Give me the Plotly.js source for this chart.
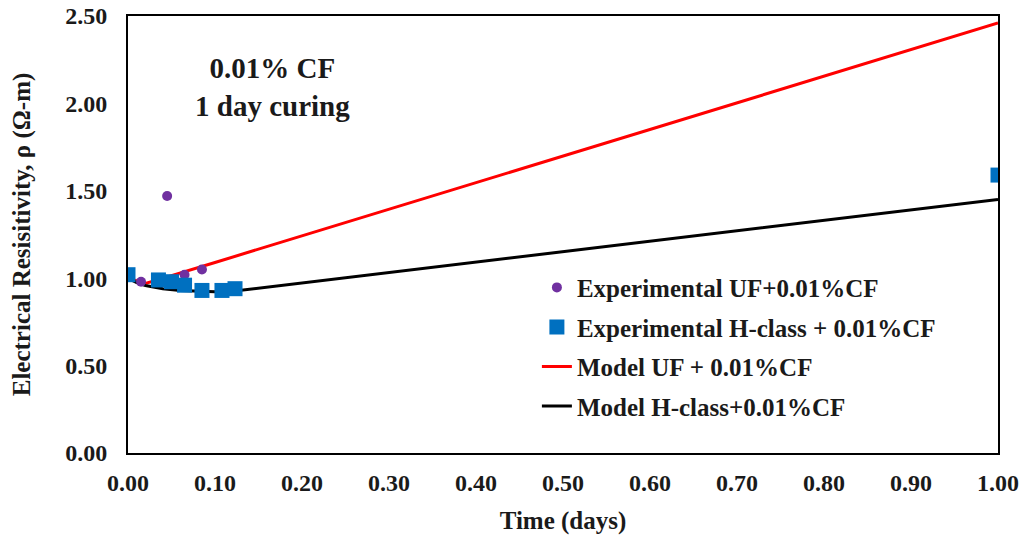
<!DOCTYPE html>
<html>
<head>
<meta charset="utf-8">
<script src="https://cdn.plot.ly/plotly-3.0.1.min.js"></script>
<style>html,body{margin:0;padding:0;background:#fff;}#chart{width:1026px;height:536px;}</style>
</head>
<body>
<div id="chart"></div>
<script>
// Experimental UF + 0.01% CF
var expUFTime = [0.015, 0.045, 0.065, 0.085];
var expUFRes  = [0.98, 1.47, 1.02, 1.05];

// Experimental H-class + 0.01% CF
var expHTime = [0.0, 0.035, 0.05, 0.065, 0.085, 0.108, 0.123, 1.0];
var expHRes  = [1.02, 0.99, 0.98, 0.96, 0.93, 0.93, 0.94, 1.59];

// Model UF + 0.01% CF
var modelUFTime = [0.0, 0.01, 0.02, 0.03, 0.05, 0.1, 1.0];
var modelUFRes  = [1.0, 0.985, 0.97, 0.985, 1.015, 1.09, 2.46];

// Model H-class + 0.01% CF
var modelHTime = [0.0, 0.01, 0.02, 0.04, 0.06, 0.08, 0.1, 0.12, 1.0];
var modelHRes  = [1.0, 0.975, 0.958, 0.94, 0.93, 0.924, 0.922, 0.925, 1.45];

var xTicks = [0, 0.1, 0.2, 0.3, 0.4, 0.5, 0.6, 0.7, 0.8, 0.9, 1.0];
var xTickLabels = ["0.00","0.10","0.20","0.30","0.40","0.50","0.60","0.70","0.80","0.90","1.00"];
var yTicks = [0, 0.5, 1.0, 1.5, 2.0, 2.5];
var yTickLabels = ["0.00","0.50","1.00","1.50","2.00","2.50"];

var serif = "Liberation Serif, Times New Roman, serif";
var ink = '#1a1a1a';

var traces = [
  {x: modelUFTime, y: modelUFRes, mode: 'lines', name: '<b>Model UF + 0.01%CF</b>',
   line: {color: '#FF0000', width: 3}, legendgroup: 'c', legendrank: 3},
  {x: modelHTime, y: modelHRes, mode: 'lines', name: '<b>Model H-class+0.01%CF</b>',
   line: {color: '#000000', width: 3}, legendgroup: 'd', legendrank: 4},
  {x: expUFTime, y: expUFRes, mode: 'markers', name: '<b>Experimental UF+0.01%CF</b>',
   marker: {color: '#7030A0', size: 10, symbol: 'circle'}, legendgroup: 'a', legendrank: 1},
  {x: expHTime, y: expHRes, mode: 'markers', name: '<b>Experimental H-class + 0.01%CF</b>',
   marker: {color: '#0070C0', size: 15, symbol: 'square'}, legendgroup: 'b', legendrank: 2}
];

var layout = {
  width: 1026, height: 536,
  margin: {l: 128, r: 28, t: 16, b: 83},
  paper_bgcolor: '#fff', plot_bgcolor: '#fff',
  font: {family: serif, color: ink, size: 24},
  showlegend: true,
  legend: {x: 0.47, y: 0.431, xanchor: 'left', yanchor: 'top', bgcolor: 'rgba(0,0,0,0)',
           font: {family: serif, size: 25, color: ink}, traceorder: 'grouped', tracegroupgap: 4},
  xaxis: {range: [0, 1.0], tickvals: xTicks, ticktext: xTickLabels, showgrid: false, zeroline: false,
          showline: true, linecolor: '#000', linewidth: 2, mirror: true, ticks: '', ticklabelstandoff: 7,
          tickfont: {family: serif, size: 24, color: ink, weight: 'bold'},
          title: {text: '<b>Time (days)</b>', font: {family: serif, size: 25, color: ink}, standoff: 17}},
  yaxis: {range: [0, 2.5], tickvals: yTicks, ticktext: yTickLabels, showgrid: false, zeroline: false,
          showline: true, linecolor: '#000', linewidth: 2, mirror: true, ticks: '', ticklabelstandoff: 14,
          tickfont: {family: serif, size: 24, color: ink, weight: 'bold'},
          title: {text: '<b>Electrical Resisitivity, ρ (Ω-m)</b>', font: {family: serif, size: 25, color: ink}, standoff: 27}},
  annotations: [
    {xref: 'paper', yref: 'paper', x: 0.166, y: 0.837, xanchor: 'center', yanchor: 'middle', showarrow: false,
     text: '<b>0.01% CF<br>1 day curing</b>', font: {family: serif, size: 29, color: ink}}
  ]
};

Plotly.newPlot('chart', traces, layout, {displayModeBar: false});
</script>
</body>
</html>
